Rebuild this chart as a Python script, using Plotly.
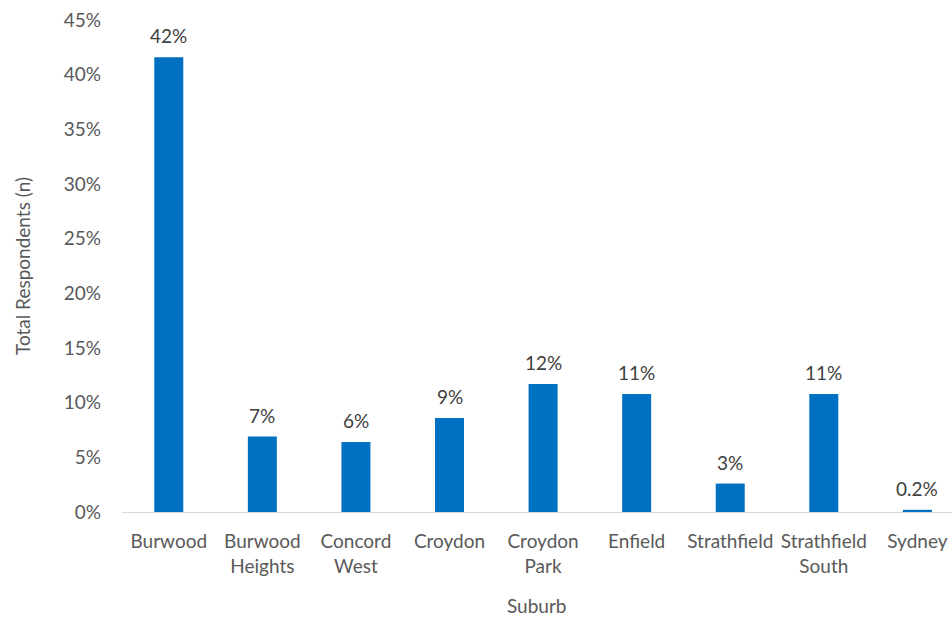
import plotly.graph_objects as go

categories = ["Burwood", "Burwood Heights", "Concord West", "Croydon", "Croydon Park",
              "Enfield", "Strathfield", "Strathfield South", "Sydney"]
tick_labels = ["Burwood", "Burwood<br>Heights", "Concord<br>West", "Croydon", "Croydon<br>Park",
               "Enfield", "Strathfield", "Strathfield<br>South", "Sydney"]
values = [41.6, 6.9, 6.4, 8.6, 11.7, 10.8, 2.6, 10.8, 0.2]
value_labels = ["42%", "7%", "6%", "9%", "12%", "11%", "3%", "11%", "0.2%"]
y_ticks = [0, 5, 10, 15, 20, 25, 30, 35, 40, 45]
y_tick_labels = [f"{v}%" for v in y_ticks]

FONT = "Lato"
SIZE = 19
GREY = "#595959"
W, H = 952, 618
L, R, T, B = 122, 0, 20, 106

fig = go.Figure()
fig.add_trace(go.Bar(
    x=list(range(len(categories))), y=values,
    marker=dict(color="#0070C0", line=dict(width=0)),
    width=0.31, hoverinfo="skip", cliponaxis=False,
))
for i, (v, t) in enumerate(zip(values, value_labels)):
    fig.add_annotation(x=i, y=v, text=t, showarrow=False, yanchor="bottom", yshift=8,
                       font=dict(family=FONT, size=SIZE, color="#404040"))

# axis titles
fig.add_annotation(xref="paper", yref="paper", x=0.5, y=-(605 - (H - B)) / (H - T - B),
                   text="Suburb", showarrow=False, xanchor="center", yanchor="middle",
                   font=dict(family=FONT, size=SIZE, color=GREY))
fig.add_annotation(xref="paper", yref="paper", x=-(L - 22) / (W - L - R), y=0.5,
                   text="Total Respondents (n)", showarrow=False, textangle=-90,
                   xanchor="center", yanchor="middle",
                   font=dict(family=FONT, size=SIZE, color=GREY))

fig.update_layout(
    width=W, height=H,
    margin=dict(l=L, r=R, t=T, b=B),
    paper_bgcolor="white", plot_bgcolor="white",
    showlegend=False,
    font=dict(family=FONT, size=SIZE, color=GREY),
    xaxis=dict(
        range=[-0.5, 8.37], automargin=False,
        tickvals=list(range(len(categories))), ticktext=tick_labels,
        showgrid=False, zeroline=False,
        showline=True, linecolor="#d9d9d9", linewidth=1,
        ticks="", ticklabelstandoff=12,
        tickfont=dict(family=FONT, size=SIZE, color=GREY),
    ),
    yaxis=dict(
        range=[0, 45], automargin=False,
        tickvals=y_ticks, ticktext=y_tick_labels,
        showgrid=False, zeroline=False, showline=False,
        ticks="", ticklabelstandoff=20,
        tickfont=dict(family=FONT, size=SIZE, color=GREY),
    ),
)
fig.write_html("out.html", config={"displayModeBar": False},
               post_script="document.body.style.margin='0px';document.body.style.overflow='hidden';")
